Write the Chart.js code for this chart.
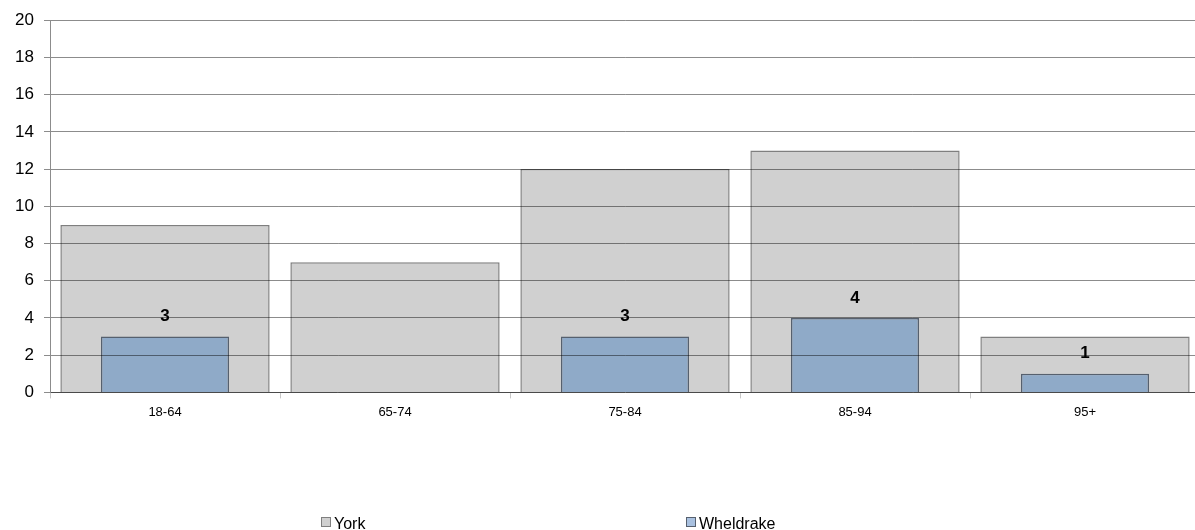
<!DOCTYPE html>
<html>
<head>
<meta charset="utf-8">
<script src="https://cdn.jsdelivr.net/npm/chart.js@4/dist/chart.umd.min.js"></script>
<style>
  html, body { margin: 0; padding: 0; background: #fff; overflow: hidden; }
  #wrap { width: 1195px; height: 530px; overflow: hidden; }
</style>
</head>
<body>
<div id="wrap"><canvas id="myChart" width="1200" height="530"></canvas></div>
<script>
var categories = ["18-64", "65-74", "75-84", "85-94", "95+"];
var york = [9, 7, 12, 13, 3];
var wheldrake = [3, 0, 3, 4, 1];
var seriesNames = ["York", "Wheldrake"];
var yTicks = [0, 2, 4, 6, 8, 10, 12, 14, 16, 18, 20];

var colors = {
  york: "#d0d0d0",
  yorkBorder: "#7f7f7f",
  wheldrake: "#8faac8",
  wheldrakeBorder: "#56606e"
};

// value labels above the Wheldrake bars (zero is left unlabelled)
var valueLabels = {
  id: "valueLabels",
  afterDraw: function(chart) {
    var ctx = chart.ctx;
    var meta = chart.getDatasetMeta(1);
    ctx.save();
    ctx.font = "bold 17px Arial, 'Liberation Sans', sans-serif";
    ctx.fillStyle = "#000";
    ctx.textAlign = "center";
    ctx.textBaseline = "middle";
    meta.data.forEach(function(bar, i) {
      var v = wheldrake[i];
      if (!v) return;
      ctx.fillText(String(v), bar.x, bar.y - 20);
    });
    ctx.restore();
  }
};

// legend spread across the bottom like the original
var bottomLegend = {
  id: "bottomLegend",
  afterDraw: function(chart) {
    var ctx = chart.ctx;
    var items = [
      { text: seriesNames[0], fill: colors.york, stroke: colors.yorkBorder, x: 321 },
      { text: seriesNames[1], fill: "#a9c1e0", stroke: colors.wheldrakeBorder, x: 686 }
    ];
    var y = 522;
    ctx.save();
    ctx.font = "16px Arial, 'Liberation Sans', sans-serif";
    ctx.textBaseline = "alphabetic";
    ctx.textAlign = "left";
    items.forEach(function(it) {
      ctx.fillStyle = it.fill;
      ctx.fillRect(it.x + 0.5, y - 4.5, 9, 9);
      ctx.strokeStyle = it.stroke;
      ctx.lineWidth = 1;
      ctx.strokeRect(it.x + 0.5, y - 4.5, 9, 9);
      ctx.fillStyle = "#000";
      ctx.fillText(it.text, it.x + 13, y + 7);
    });
    ctx.restore();
  }
};

new Chart(document.getElementById("myChart"), {
  type: "bar",
  data: {
    labels: categories,
    datasets: [{
      label: seriesNames[0],
      data: york,
      backgroundColor: colors.york,
      borderColor: colors.yorkBorder,
      borderWidth: 1.5,
      grouped: false,
      order: 1,
      categoryPercentage: 1,
      barPercentage: 0.91
    }, {
      label: seriesNames[1],
      data: wheldrake,
      backgroundColor: colors.wheldrake,
      borderColor: colors.wheldrakeBorder,
      borderWidth: 1.5,
      grouped: false,
      order: 0,
      categoryPercentage: 1,
      barPercentage: 0.557
    }]
  },
  options: {
    responsive: false,
    animation: false,
    layout: { padding: { top: 12, right: 0, bottom: 104, left: 0 } },
    plugins: {
      legend: { display: false },
      tooltip: { enabled: false }
    },
    scales: {
      x: {
        offset: true,
        grid: {
          offset: true,
          drawOnChartArea: false,
          color: "#c8c8c8",
          tickLength: 6
        },
        border: { color: "#888888", z: 1 },
        ticks: {
          color: "#000",
          font: { family: "Arial, 'Liberation Sans', sans-serif", size: 13 },
          padding: 6,
          maxRotation: 0
        }
      },
      y: {
        min: 0,
        max: 20,
        afterFit: function(scale) { scale.width = 50; },
        afterBuildTicks: function(scale) {
          scale.ticks = yTicks.map(function(v) { return { value: v }; });
        },
        grid: {
          color: "rgba(0,0,0,0.45)",
          tickLength: 6,
          z: 1
        },
        border: { color: "#8c8c8c", z: 1 },
        ticks: {
          color: "#000",
          font: { family: "Arial, 'Liberation Sans', sans-serif", size: 17 },
          padding: 10
        }
      }
    }
  },
  plugins: [valueLabels, bottomLegend]
});
</script>
</body>
</html>
